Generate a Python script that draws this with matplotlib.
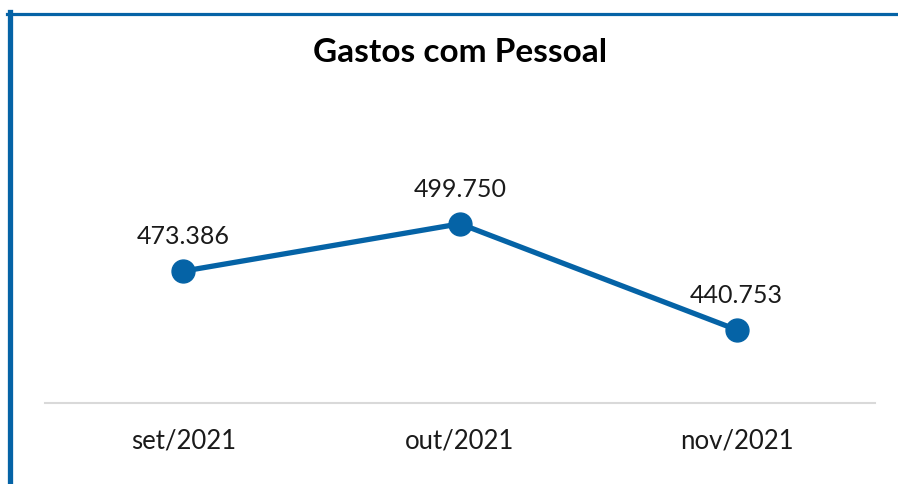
import matplotlib
matplotlib.use('Agg')
import matplotlib.pyplot as plt
from matplotlib.lines import Line2D

# dados do gráfico
meses = ['set/2021', 'out/2021', 'nov/2021']
gastos = [473.386, 499.750, 440.753]
rotulos = ['473.386', '499.750', '440.753']

AZUL = '#0563A6'
plt.rcParams['font.family'] = ['Lato', 'DejaVu Sans']

fig = plt.figure(figsize=(8.98, 4.84), dpi=100)
ax = fig.add_axes([45 / 898, 81 / 484, 830 / 898, 215.6 / 484])

x = list(range(len(meses)))
ax.plot(x, gastos, color=AZUL, linewidth=3.8, marker='o', markersize=16.5,
        solid_capstyle='round')

# rótulos de dados acima dos pontos
for xi, yi, txt in zip(x, gastos, rotulos):
    ax.annotate(txt, (xi, yi), xytext=(0, 25), textcoords='offset points',
                ha='center', va='center', fontsize=18, color='#1a1a1a')

ax.set_xlim(-0.5, 2.5)
ax.set_ylim(400, 520)
ax.set_xticks(x)
ax.set_xticklabels(meses, fontsize=18.5, color='#1a1a1a')
ax.set_yticks([])
ax.tick_params(axis='x', length=0, pad=18)
for s in ['top', 'right', 'left']:
    ax.spines[s].set_visible(False)
ax.spines['bottom'].set_color('#d9d9d9')
ax.spines['bottom'].set_linewidth(1.5)
ax.patch.set_alpha(0)

fig.text(460 / 898, 1 - 53 / 484, 'Gastos com Pessoal', ha='center', va='center',
         fontsize=24, fontweight='bold', color='#000000')

# moldura azul (esquerda e topo)
fig.add_artist(Line2D([9.5 / 898, 9.5 / 898], [0, 1 - 12 / 484], color=AZUL,
                      linewidth=3.8, transform=fig.transFigure))
fig.add_artist(Line2D([7 / 898, 1], [1 - 13.5 / 484, 1 - 13.5 / 484], color=AZUL,
                      linewidth=2.3, transform=fig.transFigure))

fig.savefig('out.png', dpi=100)
